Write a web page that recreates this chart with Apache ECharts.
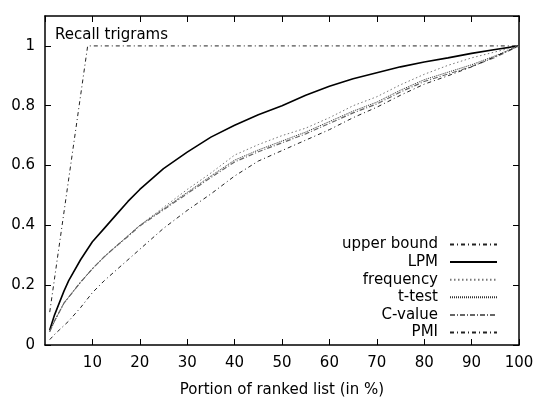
<!DOCTYPE html>
<html>
<head>
<meta charset="utf-8">
<script src="https://cdn.jsdelivr.net/npm/echarts@6/dist/echarts.min.js"></script>
<style>
html,body{margin:0;padding:0;background:#fff;}
#c{width:536px;height:399px;}
</style>
</head>
<body>
<div id="c"></div>
<script>
// ---- data ----
var xs = [1, 2, 3, 4, 5, 7.5, 10, 12.5, 15, 17.5, 20, 25, 30, 35, 40, 45, 50, 55, 60, 65, 70, 75, 80, 85, 90, 95, 100];
var upperX = [1, 9, 100];
var upperY = [0.11, 1, 1];
var lpm       = [0.05, 0.10, 0.14, 0.18, 0.215, 0.285, 0.345, 0.39, 0.435, 0.48, 0.52, 0.59, 0.645, 0.695, 0.735, 0.77, 0.80, 0.835, 0.865, 0.89, 0.91, 0.93, 0.946, 0.96, 0.975, 0.988, 1.0];
var frequency = [0.045, 0.08, 0.11, 0.14, 0.16, 0.21, 0.255, 0.295, 0.33, 0.365, 0.40, 0.46, 0.52, 0.575, 0.635, 0.67, 0.70, 0.725, 0.76, 0.80, 0.83, 0.87, 0.905, 0.935, 0.96, 0.98, 1.0];
var ttest     = [0.045, 0.08, 0.11, 0.14, 0.16, 0.21, 0.255, 0.295, 0.33, 0.365, 0.40, 0.455, 0.51, 0.565, 0.618, 0.652, 0.682, 0.712, 0.747, 0.782, 0.812, 0.852, 0.887, 0.912, 0.937, 0.967, 1.0];
var cvalue    = [0.045, 0.08, 0.11, 0.14, 0.16, 0.21, 0.255, 0.295, 0.33, 0.363, 0.398, 0.452, 0.506, 0.56, 0.612, 0.646, 0.676, 0.706, 0.741, 0.776, 0.806, 0.846, 0.881, 0.906, 0.931, 0.962, 1.0];
var pmi       = [0.018, 0.035, 0.05, 0.065, 0.08, 0.125, 0.175, 0.215, 0.25, 0.285, 0.32, 0.39, 0.45, 0.505, 0.565, 0.615, 0.65, 0.685, 0.72, 0.76, 0.795, 0.835, 0.872, 0.90, 0.93, 0.965, 1.0];
var xTicks = [0, 10, 20, 30, 40, 50, 60, 70, 80, 90, 100];
var yTicks = [0, 0.2, 0.4, 0.6, 0.8, 1];
var titleText = 'Recall trigrams';
var xName = 'Portion of ranked list (in %)';
var legendNames = ['upper bound', 'LPM', 'frequency', 't-test', 'C-value', 'PMI'];

function pairs(xa, ya){ return xa.map(function(x,i){ return [x, ya[i]]; }); }

var FONT = 'DejaVu Sans';
var chart = echarts.init(document.getElementById('c'), null, {renderer:'canvas'});

function mkSeries(name, xa, ya, color, width, type){
  return {
    name: name, type: 'line', data: pairs(xa, ya),
    xAxisIndex: 0, yAxisIndex: 0,
    symbol: 'none', showSymbol: false, smooth: false, animation: false,
    lineStyle: {color: color, width: width, type: type},
    itemStyle: {color: color}
  };
}

var axisLineStyle = {color:'#000', width:1.5};
var tickStyle = {show: true, inside: true, length: 6, lineStyle: {color:'#000', width: 1}};
var option = {
  animation: false,
  backgroundColor: '#fff',
  title: {
    text: titleText, left: 50, top: 23,
    textStyle: {fontFamily: FONT, fontSize: 15, fontWeight: 'normal', color: '#000'}
  },
  grid: {left: 45, right: 17, top: 16, bottom: 54, containLabel: false, outerBoundsMode: 'none'},
  legend: {
    orient: 'vertical', right: 38, top: 237, align: 'right', padding: 0,
    itemWidth: 47, itemHeight: 12, itemGap: 2.6,
    itemStyle: {opacity: 0, color: 'rgba(0,0,0,0)', borderWidth: 0},
    textStyle: {fontFamily: FONT, fontSize: 15, color: '#000', padding: [0, 7, 0, 0]},
    data: legendNames
  },
  xAxis: [{
    type: 'value', min: 0, max: 100, interval: 10, position: 'bottom',
    name: xName, nameLocation: 'middle', nameGap: 38,
    nameTextStyle: {fontFamily: FONT, fontSize: 15, color: '#000'},
    axisLine: {show: true, onZero: false, lineStyle: axisLineStyle},
    axisTick: tickStyle,
    axisLabel: {showMinLabel: false, margin: 11, fontFamily: FONT, fontSize: 15, color: '#000'},
    splitLine: {show: false}
  }, {
    type: 'value', min: 0, max: 100, interval: 10, position: 'top',
    axisLine: {show: true, onZero: false, lineStyle: axisLineStyle},
    axisTick: tickStyle,
    axisLabel: {show: false}, splitLine: {show: false}
  }],
  yAxis: [{
    type: 'value', min: 0, max: 1.1, interval: 0.2, position: 'left',
    axisLine: {show: true, onZero: false, lineStyle: axisLineStyle},
    axisTick: tickStyle,
    axisLabel: {showMaxLabel: false, margin: 10, fontFamily: FONT, fontSize: 15, color: '#000',
      formatter: function(v){ var r = Math.round(v*10)/10; return yTicks.indexOf(r) >= 0 ? String(r) : ''; }},
    splitLine: {show: false}
  }, {
    type: 'value', min: 0, max: 1.1, interval: 0.2, position: 'right',
    axisLine: {show: true, onZero: false, lineStyle: axisLineStyle},
    axisTick: tickStyle,
    axisLabel: {show: false}, splitLine: {show: false}
  }],
  series: [
    mkSeries(legendNames[0], upperX, upperY, '#222', 1, [4, 3, 1, 3]),
    mkSeries(legendNames[1], xs, lpm, '#000', 1.6, 'solid'),
    mkSeries(legendNames[2], xs, frequency, '#777', 1, [1.5, 2.5]),
    mkSeries(legendNames[3], xs, ttest, '#333', 1, [1, 1]),
    mkSeries(legendNames[4], xs, cvalue, '#666', 1.2, [5, 2, 1, 2]),
    mkSeries(legendNames[5], xs, pmi, '#222', 1, [4, 3, 1, 3])
  ]
};
chart.setOption(option);
</script>
</body>
</html>
